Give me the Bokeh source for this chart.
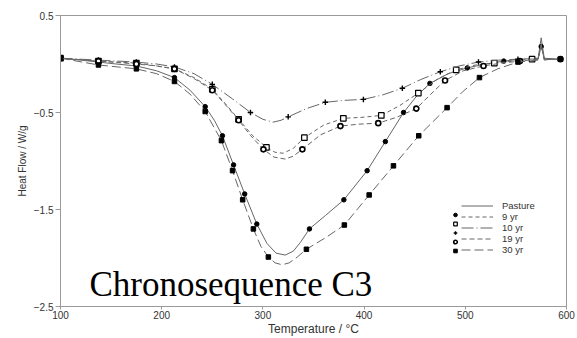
from bokeh.plotting import figure
from bokeh.models import Range1d, FixedTicker, Label, Legend, LegendItem
from bokeh.embed import file_html
from bokeh.resources import INLINE

# ---------------- data (temperature °C, heat flow W/g) ----------------
series_names = ["Pasture", "9 yr", "10 yr", "19 yr", "30 yr"]

pasture_T = [100, 120, 137.5, 155, 175, 195, 212.6, 228, 243, 252, 260, 271, 282, 294, 304, 313, 322, 330, 337, 346,
             362, 380, 403, 421, 439, 452, 465, 483, 502, 520, 538, 555, 572, 575, 578, 590, 597]
pasture_HF = [0.06, 0.04, 0.02, 0.00, -0.02, -0.07, -0.14, -0.27, -0.44, -0.58, -0.74, -1.04, -1.34, -1.65, -1.85,
              -1.95, -1.97, -1.93, -1.84, -1.70, -1.56, -1.40, -1.10, -0.80, -0.50, -0.33, -0.20, -0.10, -0.04, 0.00,
              0.03, 0.05, 0.06, 0.27, 0.06, 0.05, 0.05]
pasture_mT = [100, 137.5, 175, 212.6, 243, 260, 271, 282, 294, 346, 380, 403, 421, 439, 465, 502, 538, 575]
pasture_mHF = [0.06, 0.02, -0.02, -0.14, -0.44, -0.74, -1.04, -1.34, -1.65, -1.70, -1.40, -1.10, -0.80, -0.50, -0.20,
               -0.04, 0.03, 0.18]

yr9_T = [100, 137.5, 175, 195, 212.6, 232, 250, 263, 276, 290, 303.5, 312, 320, 330, 341, 360, 379.5, 398, 417, 435,
         453.6, 472, 491, 510, 528.7, 548, 566, 572, 575, 578, 585, 597]
yr9_HF = [0.06, 0.03, 0.01, -0.02, -0.05, -0.14, -0.26, -0.41, -0.57, -0.74, -0.86, -0.91, -0.92, -0.87, -0.76, -0.63,
          -0.56, -0.55, -0.53, -0.43, -0.30, -0.16, -0.06, -0.01, 0.01, 0.03, 0.05, 0.05, 0.20, 0.05, 0.05, 0.05]
yr9_mT = [100, 137.5, 175, 212.6, 250, 276, 303.5, 341, 379.5, 417, 453.6, 491, 528.7, 566]
yr9_mHF = [0.06, 0.03, 0.01, -0.05, -0.26, -0.57, -0.86, -0.76, -0.56, -0.53, -0.30, -0.06, 0.01, 0.05]

yr10_T = [100, 137.5, 175, 195, 212.6, 232, 250, 270, 287.7, 300, 310, 318, 325, 343, 361.7, 380, 399.3, 418, 437.8,
          456, 475.3, 494, 513, 533, 552, 572, 575, 578, 585, 597]
yr10_HF = [0.06, 0.04, 0.02, 0.00, -0.03, -0.10, -0.21, -0.36, -0.50, -0.57, -0.60, -0.58, -0.545, -0.46, -0.395,
           -0.375, -0.365, -0.32, -0.25, -0.16, -0.08, -0.02, 0.02, 0.04, 0.05, 0.05, 0.20, 0.05, 0.05, 0.05]
yr10_mT = [100, 137.5, 175, 212.6, 250, 287.7, 325, 361.7, 399.3, 437.8, 475.3, 513, 552]
yr10_mHF = [0.06, 0.04, 0.02, -0.03, -0.21, -0.50, -0.545, -0.395, -0.365, -0.25, -0.08, 0.02, 0.05]

yr19_T = [100, 137.5, 175, 195, 212.6, 232, 250, 263, 276, 288, 300.5, 311, 322, 330, 339, 357, 376.6, 395, 414, 432,
          451.6, 466, 480, 498, 518, 536, 554, 572, 575, 578, 585, 597]
yr19_HF = [0.06, 0.03, 0.00, -0.02, -0.05, -0.15, -0.27, -0.42, -0.58, -0.74, -0.88, -0.96, -0.98, -0.95, -0.88,
           -0.73, -0.64, -0.62, -0.61, -0.55, -0.46, -0.31, -0.17, -0.07, -0.02, 0.01, 0.03, 0.05, 0.20, 0.05, 0.05,
           0.05]
yr19_mT = [100, 137.5, 175, 212.6, 250, 276, 300.5, 339, 376.6, 414, 451.6, 480, 518, 554, 594]
yr19_mHF = [0.06, 0.03, 0.00, -0.05, -0.27, -0.58, -0.88, -0.88, -0.64, -0.61, -0.46, -0.17, -0.02, 0.03, 0.05]

yr30_T = [100, 137.5, 175, 195, 212.6, 228, 243, 259, 270, 280, 290.6, 298, 305.4, 312, 319, 326, 334, 343, 362,
          380.5, 405, 429, 454, 482, 498, 514, 532, 552, 572, 575, 578, 585, 597]
yr30_HF = [0.06, -0.01, -0.05, -0.10, -0.18, -0.31, -0.49, -0.79, -1.10, -1.40, -1.70, -1.88, -1.99, -2.05, -2.07,
           -2.05, -1.99, -1.91, -1.79, -1.66, -1.35, -1.05, -0.74, -0.45, -0.28, -0.14, -0.05, 0.02, 0.04, 0.20, 0.04,
           0.05, 0.05]
yr30_mT = [100, 137.5, 175, 212.6, 243, 259, 270, 280, 290.6, 305.4, 343, 380.5, 405, 429, 454, 482, 514, 552, 594]
yr30_mHF = [0.06, -0.01, -0.05, -0.18, -0.49, -0.79, -1.10, -1.40, -1.70, -1.99, -1.91, -1.66, -1.35, -1.05, -0.74,
            -0.45, -0.14, 0.02, 0.05]

x_ticks = [100, 200, 300, 400, 500, 600]
y_ticks = [0.5, -0.5, -1.5, -2.5]
annotation_text = "Chronosequence C3"

# ---------------- figure ----------------
AX = "#9a9a9a"
TXT = "#333333"
SANS = "Liberation Sans"

p = figure(width=577, height=338, output_backend="svg", toolbar_location=None,
           x_range=Range1d(100, 600), y_range=Range1d(-2.5, 0.5),
           min_border_left=60, min_border_right=11, min_border_top=15, min_border_bottom=28)
p.xgrid.visible = False
p.ygrid.visible = False
p.outline_line_color = AX
p.outline_line_width = 1
p.background_fill_color = "white"
p.border_fill_color = "white"

for ax in (p.xaxis[0], p.yaxis[0]):
    ax.axis_line_color = AX
    ax.major_tick_line_color = AX
    ax.minor_tick_line_color = None
    ax.major_tick_in = 0
    ax.major_label_text_font = SANS
    ax.major_label_text_color = TXT
    ax.major_label_text_font_size = "10px"
    ax.axis_label_text_font = SANS
    ax.axis_label_text_font_style = "normal"
    ax.axis_label_text_color = TXT

p.xaxis.ticker = FixedTicker(ticks=x_ticks)
p.yaxis.ticker = FixedTicker(ticks=y_ticks)
p.xaxis.major_tick_out = 3
p.yaxis.major_tick_out = 5
p.xaxis.major_label_standoff = 1
p.yaxis.major_label_standoff = 2
p.xaxis.axis_label = "Temperature / °C"
p.yaxis.axis_label = "Heat Flow / W/g"
p.xaxis.axis_label_text_font_size = "12px"
p.yaxis.axis_label_text_font_size = "10px"
p.xaxis.axis_label_standoff = 0
p.yaxis.axis_label_standoff = 3

LINE = "#666666"
styles = [
    dict(T=pasture_T, HF=pasture_HF, mT=pasture_mT, mHF=pasture_mHF, dash="solid",
         marker="circle", size=4.5, fill="black", mlw=1),
    dict(T=yr9_T, HF=yr9_HF, mT=yr9_mT, mHF=yr9_mHF, dash="4 3",
         marker="square", size=5.5, fill="white", mlw=1.2),
    dict(T=yr10_T, HF=yr10_HF, mT=yr10_mT, mHF=yr10_mHF, dash="12 3 1 3",
         marker="cross", size=5.5, fill="black", mlw=1.4),
    dict(T=yr19_T, HF=yr19_HF, mT=yr19_mT, mHF=yr19_mHF, dash="5 3",
         marker="circle", size=5, fill="white", mlw=1.6),
    dict(T=yr30_T, HF=yr30_HF, mT=yr30_mT, mHF=yr30_mHF, dash="9 4",
         marker="square", size=4.5, fill="black", mlw=1),
]

line_rs, mark_rs = [], []
for s in styles:
    lr = p.line(s["T"], s["HF"], line_color=LINE, line_width=1, line_dash=s["dash"])
    mr = p.scatter(s["mT"], s["mHF"], marker=s["marker"], size=s["size"], fill_color=s["fill"],
                   line_color="black", line_width=s["mlw"])
    line_rs.append(lr)
    mark_rs.append(mr)

legend_common = dict(background_fill_alpha=0, border_line_alpha=0, padding=0, margin=0, spacing=0,
                     glyph_height=9, label_height=9, label_text_font=SANS, label_text_font_size="9.5px",
                     label_text_color=TXT, label_text_line_height=1.0)
leg_m = Legend(items=[LegendItem(label=" ", renderers=[m]) for m in mark_rs],
               location=(389, 51), glyph_width=12, label_standoff=0, label_width=0, **legend_common)
leg_l = Legend(items=[LegendItem(label=n, renderers=[l]) for n, l in zip(series_names, line_rs)],
               location=(401, 51), glyph_width=32, label_standoff=9, **legend_common)
p.add_layout(leg_m)
p.add_layout(leg_l)

p.add_layout(Label(x=128.6, y=-2.27, text=annotation_text, text_font="Liberation Serif",
                   text_font_size="35px", text_color="black", text_baseline="alphabetic"))

open("out.html", "w").write(file_html(p, INLINE))
